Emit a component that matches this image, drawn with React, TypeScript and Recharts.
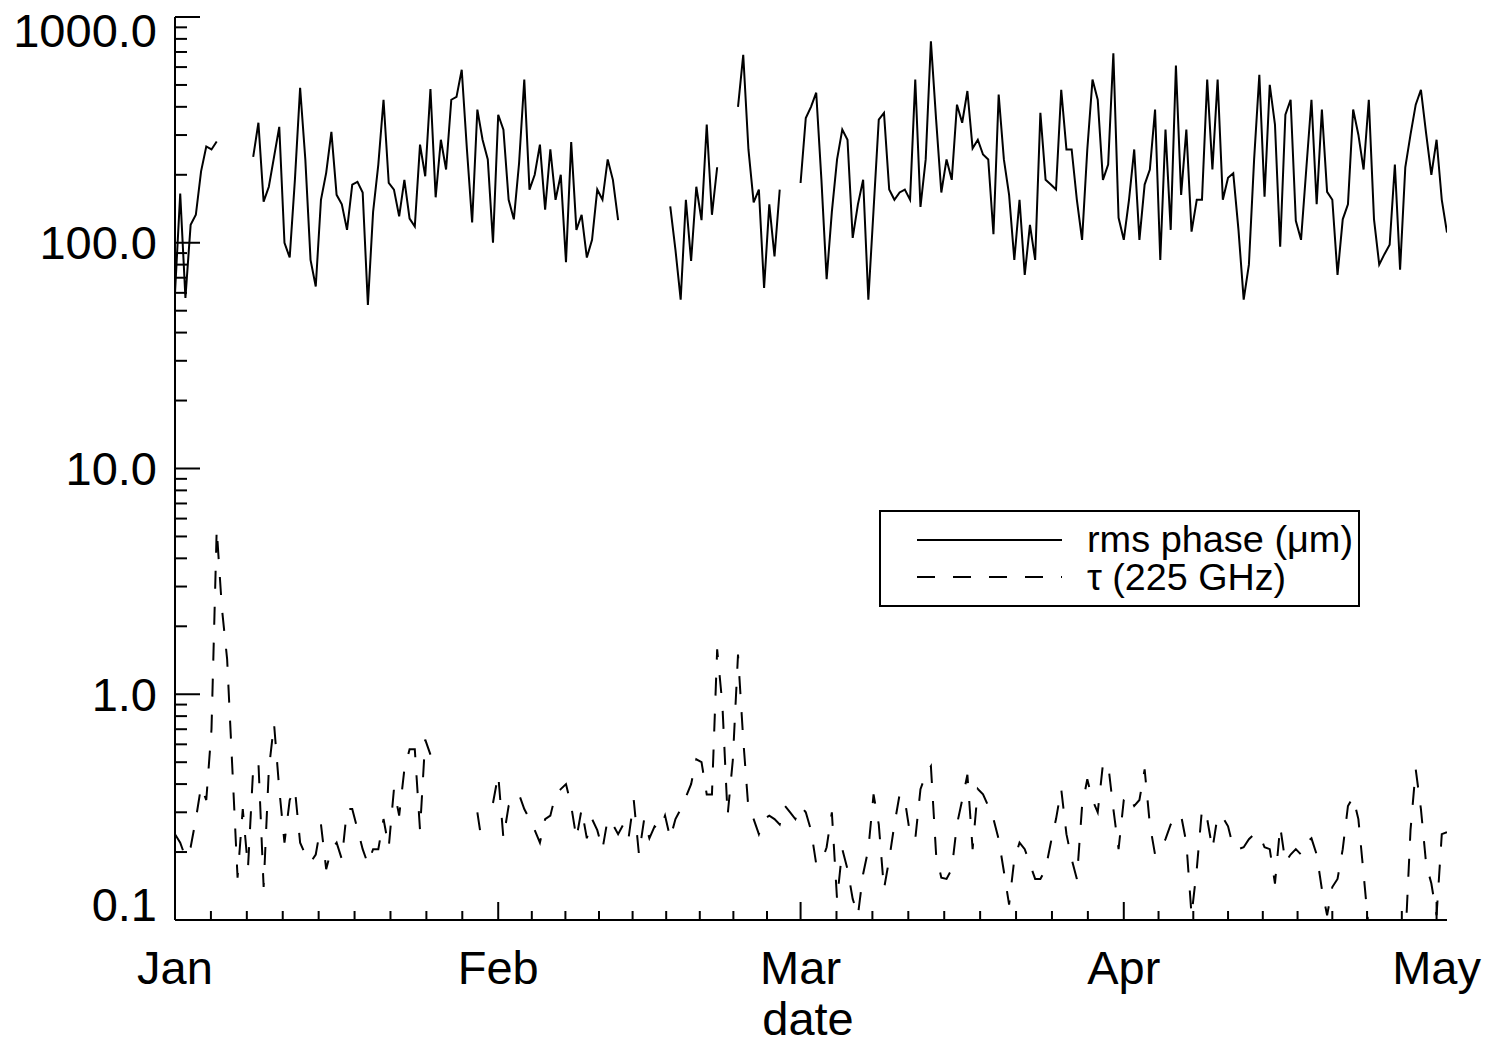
import { LineChart, Line, XAxis, YAxis, Legend, Label } from "recharts";

// samples every half day starting Jan 1 (2000, leap year)
const STEP_DAYS = 0.5;

// rms phase (um), null = no data
const PHASE: (number | null)[] = [
  60, 165, 57, 120, 133, 207, 267, 259, 281, null,
  null, null, null, null, null, 240, 340, 152, 177, 240,
  326, 100, 86, 190, 486, 234, 84, 64, 155, 204,
  310, 163, 148, 114, 181, 186, 167, 53, 137, 222,
  430, 184, 172, 131, 190, 128, 118, 272, 197, 480,
  159, 286, 211, 430, 443, 584, 259, 123, 389, 286,
  234, 100, 369, 317, 155, 127, 225, 528, 172, 200,
  272, 140, 259, 155, 200, 82, 279, 114, 133, 86,
  103, 172, 155, 234, 190, 126, null, null, null, null,
  null, null, null, null, null, 145, 93, 56, 155, 83,
  177, 126, 334, 133, 216, null, null, null, 400, 680,
  259, 151, 172, 63, 148, 87, 172, null, null, null,
  184, 357, 400, 462, 190, 69, 137, 234, 317, 286,
  105, 148, 190, 56, 140, 351, 376, 172, 155, 167,
  172, 155, 528, 144, 234, 780, 351, 167, 234, 190,
  409, 340, 470, 262, 286, 246, 234, 109, 453, 234,
  163, 84, 155, 72, 120, 84, 376, 190, 181, 172,
  476, 259, 259, 155, 103, 259, 528, 430, 190, 222,
  690, 129, 103, 155, 259, 103, 181, 211, 389, 84,
  317, 114, 610, 163, 317, 112, 155, 155, 528, 211,
  528, 155, 194, 203, 114, 56, 80, 234, 555, 160,
  501, 334, 96, 369, 430, 125, 103, 211, 430, 148,
  389, 168, 155, 72, 127, 148, 389, 301, 211, 430,
  127, 80, 89, 98, 222, 76, 216, 301, 409, 476,
  304, 200, 286, 155, 111,
];

// tau at 225 GHz, null = no data
const TAU: (number | null)[] = [
  0.24, 0.22, 0.19, 0.21, 0.28, 0.39, 0.34, 0.7, 5.4, 2.4,
  1.43, 0.47, 0.154, 0.31, 0.17, 0.47, 0.5, 0.14, 0.465, 0.74,
  0.38, 0.22, 0.34, 0.38, 0.22, 0.195, 0.18, 0.195, 0.265, 0.168,
  0.206, 0.22, 0.186, 0.31, 0.31, 0.253, 0.206, 0.177, 0.206, 0.206,
  0.28, 0.21, 0.38, 0.29, 0.465, 0.57, 0.57, 0.25, 0.63, 0.54,
  null, null, null, null, null, null, null, null, 0.3, 0.21,
  null, 0.33, 0.44, 0.23, 0.32, 0.34, 0.36, 0.31, 0.28, 0.25,
  0.22, 0.28, 0.29, 0.36, 0.38, 0.4, 0.32, 0.23, 0.31, 0.23,
  0.28, 0.25, 0.206, 0.28, 0.265, 0.24, 0.265, 0.23, 0.34, 0.195,
  0.28, 0.23, 0.26, 0.25, 0.29, 0.23, 0.28, 0.31, 0.35, 0.4,
  0.515, 0.5, 0.36, 0.36, 1.58, 0.9, 0.29, 0.51, 1.5, 0.63,
  0.31, 0.28, 0.24, 0.28, 0.29, 0.28, 0.265, 0.32, 0.3, 0.28,
  0.32, 0.3, 0.25, 0.177, 0.18, 0.21, 0.3, 0.123, 0.206, 0.168,
  0.124, 0.105, 0.16, 0.206, 0.36, 0.265, 0.137, 0.186, 0.265, 0.36,
  0.34, 0.24, 0.228, 0.38, 0.44, 0.48, 0.195, 0.154, 0.152, 0.168,
  0.265, 0.34, 0.44, 0.206, 0.38, 0.36, 0.32, 0.28, 0.228, 0.164,
  0.117, 0.186, 0.22, 0.206, 0.177, 0.152, 0.152, 0.168, 0.22, 0.28,
  0.38, 0.24, 0.186, 0.152, 0.32, 0.42, 0.34, 0.3, 0.49, 0.49,
  0.31, 0.206, 0.34, 0.36, 0.32, 0.34, 0.465, 0.265, 0.195, 0.206,
  0.228, 0.265, 0.29, 0.29, 0.22, 0.105, 0.168, 0.31, 0.28, 0.206,
  0.29, 0.285, 0.26, 0.21, 0.206, 0.21, 0.228, 0.24, 0.24, 0.21,
  0.206, 0.145, 0.26, 0.18, 0.195, 0.206, 0.195, 0.22, 0.23, 0.195,
  0.137, 0.105, 0.14, 0.152, 0.206, 0.32, 0.35, 0.28, 0.16, 0.09,
  0.07, 0.07, 0.07, 0.07, 0.07, 0.07, 0.08, 0.25, 0.465, 0.31,
  0.177, 0.145, 0.105, 0.24, 0.245,
];

const MONTHS = ["Jan", "Feb", "Mar", "Apr", "May"];
const MONTH_START = [0, 31, 60, 91, 121];
const DECADES = [0.1, 1, 10, 100, 1000];

const FONT = "'Liberation Sans', Arial, Helvetica, sans-serif";
const PLOT_TOP = 17;
const PLOT_BOTTOM = 920;

const data = PHASE.map((p, i) => ({ day: i * STEP_DAYS, phase: p, tau: TAU[i] }));

// month starts plus 8 minor ticks inside each month
const xTicks: number[] = [];
MONTH_START.forEach((start, m) => {
  xTicks.push(start);
  const next = MONTH_START[m + 1];
  if (next === undefined) return;
  for (let k = 1; k < 9; k++) xTicks.push(start + (k * (next - start)) / 9);
});

const yTicks: number[] = [];
DECADES.forEach((d, i) => {
  if (i === DECADES.length - 1) {
    yTicks.push(d);
    return;
  }
  for (let k = 1; k < 10; k++) yTicks.push(+(k * d).toPrecision(3));
});

const isMonth = (v: number) => MONTH_START.includes(v);
const isDecade = (v: number) => DECADES.includes(v);

function BottomTick({ x, y, payload }: any) {
  const major = isMonth(payload.value);
  return (
    <g>
      <line x1={x} y1={y} x2={x} y2={y - (major ? 18 : 9)} stroke="#000" strokeWidth={2} />
      {major && (
        <text x={x} y={y + 64} textAnchor="middle" fontSize={47} fontFamily={FONT} fill="#000">
          {MONTHS[MONTH_START.indexOf(payload.value)]}
        </text>
      )}
    </g>
  );
}

function TopTick({ x, y, payload }: any) {
  const major = isMonth(payload.value);
  return <line x1={x} y1={y} x2={x} y2={y + (major ? 18 : 9)} stroke="#000" strokeWidth={2} />;
}

function LeftTick({ x, y, payload }: any) {
  const v = payload.value;
  const major = isDecade(v);
  // keep the end labels inside the frame
  const ly = Math.min(Math.max(y, PLOT_TOP + 14), PLOT_BOTTOM - 15);
  return (
    <g>
      <line x1={x} y1={y} x2={x + (major ? 25 : 12)} y2={y} stroke="#000" strokeWidth={2} />
      {major && (
        <text x={x - 18} y={ly} dy="0.35em" textAnchor="end" fontSize={47} fontFamily={FONT} fill="#000">
          {v.toFixed(1)}
        </text>
      )}
    </g>
  );
}

function RightTick({ x, y, payload }: any) {
  const major = isDecade(payload.value);
  return <line x1={x} y1={y} x2={x - (major ? 25 : 12)} y2={y} stroke="#000" strokeWidth={2} />;
}

function DateLabel({ viewBox }: any) {
  return (
    <text
      x={viewBox.x + viewBox.width / 2 - 3}
      y={viewBox.y + 115}
      textAnchor="middle"
      fontSize={47}
      fontFamily={FONT}
      fill="#000"
    >
      date
    </text>
  );
}

function LegendBox() {
  return (
    <svg width={482} height={98} style={{ display: "block" }}>
      <rect x={1} y={1} width={479} height={95} fill="#fff" stroke="#000" strokeWidth={2} />
      <line x1={38} y1={30} x2={183} y2={30} stroke="#000" strokeWidth={2} />
      <line x1={38} y1={67} x2={183} y2={67} stroke="#000" strokeWidth={2} strokeDasharray="18 18" />
      <text x={208} y={42} fontSize={36} fontFamily={FONT} fill="#000" textLength={266} lengthAdjust="spacingAndGlyphs">
        rms phase (μm)
      </text>
      <text x={208} y={80} fontSize={36} fontFamily={FONT} fill="#000" textLength={199} lengthAdjust="spacingAndGlyphs">
        τ (225 GHz)
      </text>
    </svg>
  );
}

const axisLine = { stroke: "#000", strokeWidth: 2 };

export default function App() {
  return (
    <div style={{ position: "absolute", left: 0, top: 0, background: "#fff" }}>
      <LineChart width={1492} height={1044} data={data} margin={{ top: 17, right: 45, bottom: 0, left: 0 }}>
        <XAxis
          dataKey="day"
          type="number"
          domain={[0, 122]}
          allowDataOverflow
          ticks={xTicks}
          interval={0}
          height={124}
          tickSize={0}
          tickMargin={0}
          tickLine={false}
          axisLine={axisLine}
          tick={<BottomTick />}
          label={<Label content={<DateLabel />} />}
        />
        <XAxis
          xAxisId="top"
          orientation="top"
          dataKey="day"
          type="number"
          domain={[0, 122]}
          allowDataOverflow
          ticks={xTicks}
          interval={0}
          height={0}
          tickSize={0}
          tickMargin={0}
          tickLine={false}
          axisLine={axisLine}
          tick={<TopTick />}
        />
        <YAxis
          type="number"
          scale="log"
          domain={[0.1, 1000]}
          allowDataOverflow
          ticks={yTicks}
          interval={0}
          width={175}
          tickSize={0}
          tickMargin={0}
          tickLine={false}
          axisLine={axisLine}
          tick={<LeftTick />}
        />
        <YAxis
          yAxisId="right"
          orientation="right"
          type="number"
          scale="log"
          domain={[0.1, 1000]}
          allowDataOverflow
          ticks={yTicks}
          interval={0}
          width={0}
          tickSize={0}
          tickMargin={0}
          tickLine={false}
          axisLine={axisLine}
          tick={<RightTick />}
        />
        <Line
          dataKey="phase"
          type="linear"
          stroke="#000"
          strokeWidth={2}
          dot={false}
          activeDot={false}
          isAnimationActive={false}
        />
        <Line
          dataKey="tau"
          type="linear"
          stroke="#000"
          strokeWidth={2}
          strokeDasharray="18 18"
          dot={false}
          activeDot={false}
          isAnimationActive={false}
        />
        <Legend
          layout="vertical"
          align="center"
          verticalAlign="middle"
          wrapperStyle={{ left: 879, top: 510, width: 482, height: 98 }}
          content={<LegendBox />}
        />
      </LineChart>
    </div>
  );
}
